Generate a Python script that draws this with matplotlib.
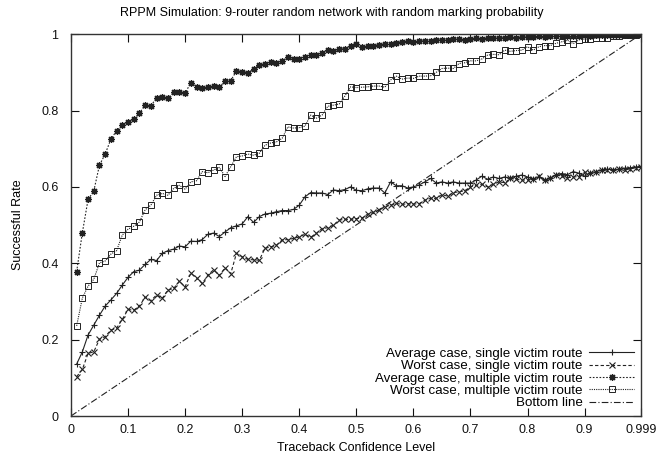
import numpy as np
import matplotlib
matplotlib.use("Agg")
import matplotlib.pyplot as plt

plt.rcParams['font.family'] = ['Liberation Sans', 'DejaVu Sans']

# confidence levels 0.01 .. 0.99 plus 0.999
conf = list(np.round(np.arange(0.01, 1.0, 0.01), 2)) + [0.999]

avg_single = [0.136, 0.168, 0.212, 0.238, 0.264, 0.288, 0.304, 0.321, 0.343, 0.363,
              0.378, 0.382, 0.397, 0.410, 0.407, 0.426, 0.433, 0.437, 0.445, 0.443,
              0.458, 0.457, 0.462, 0.476, 0.479, 0.470, 0.482, 0.493, 0.498, 0.503,
              0.522, 0.507, 0.522, 0.529, 0.531, 0.535, 0.538, 0.538, 0.541, 0.552,
              0.574, 0.585, 0.584, 0.584, 0.580, 0.592, 0.590, 0.593, 0.600, 0.591,
              0.590, 0.595, 0.597, 0.597, 0.584, 0.613, 0.603, 0.603, 0.597, 0.600,
              0.605, 0.613, 0.622, 0.610, 0.613, 0.610, 0.613, 0.610, 0.610, 0.610,
              0.618, 0.628, 0.620, 0.626, 0.622, 0.626, 0.622, 0.628, 0.631, 0.626,
              0.620, 0.626, 0.618, 0.622, 0.632, 0.635, 0.632, 0.640, 0.636, 0.628,
              0.637, 0.640, 0.645, 0.646, 0.645, 0.646, 0.649, 0.650, 0.652, 0.653]

worst_single = [0.103, 0.122, 0.164, 0.168, 0.201, 0.208, 0.225, 0.230, 0.253, 0.279,
                0.277, 0.288, 0.311, 0.302, 0.317, 0.308, 0.330, 0.334, 0.353, 0.338,
                0.374, 0.362, 0.347, 0.369, 0.383, 0.368, 0.388, 0.373, 0.426, 0.417,
                0.410, 0.409, 0.408, 0.439, 0.443, 0.447, 0.461, 0.462, 0.465, 0.469,
                0.476, 0.468, 0.478, 0.491, 0.493, 0.500, 0.513, 0.515, 0.515, 0.517,
                0.518, 0.529, 0.533, 0.539, 0.548, 0.552, 0.557, 0.554, 0.556, 0.555,
                0.556, 0.565, 0.570, 0.570, 0.579, 0.576, 0.585, 0.587, 0.590, 0.600,
                0.604, 0.607, 0.600, 0.607, 0.613, 0.611, 0.622, 0.620, 0.618, 0.618,
                0.620, 0.628, 0.617, 0.624, 0.632, 0.628, 0.624, 0.626, 0.627, 0.638,
                0.636, 0.638, 0.643, 0.645, 0.644, 0.646, 0.643, 0.648, 0.650, 0.653]

avg_multi = [0.378, 0.480, 0.567, 0.589, 0.657, 0.686, 0.725, 0.747, 0.762, 0.770,
             0.777, 0.793, 0.814, 0.812, 0.833, 0.836, 0.832, 0.848, 0.849, 0.845,
             0.873, 0.862, 0.860, 0.862, 0.864, 0.862, 0.876, 0.878, 0.904, 0.902,
             0.899, 0.908, 0.919, 0.922, 0.927, 0.925, 0.930, 0.939, 0.936, 0.935,
             0.940, 0.945, 0.946, 0.950, 0.958, 0.956, 0.960, 0.962, 0.970, 0.974,
             0.965, 0.968, 0.970, 0.972, 0.975, 0.974, 0.978, 0.980, 0.982, 0.980,
             0.981, 0.983, 0.982, 0.984, 0.985, 0.984, 0.986, 0.987, 0.985, 0.988,
             0.989, 0.988, 0.990, 0.989, 0.991, 0.990, 0.992, 0.991, 0.993, 0.992,
             0.993, 0.994, 0.993, 0.995, 0.994, 0.995, 0.996, 0.995, 0.996, 0.997,
             0.996, 0.997, 0.997, 0.998, 0.997, 0.998, 0.999, 0.998, 0.999, 1.000]

worst_multi = [0.236, 0.309, 0.340, 0.358, 0.401, 0.406, 0.424, 0.433, 0.474, 0.489,
               0.497, 0.508, 0.540, 0.552, 0.578, 0.583, 0.578, 0.596, 0.604, 0.594,
               0.613, 0.616, 0.640, 0.637, 0.644, 0.651, 0.627, 0.653, 0.679, 0.681,
               0.686, 0.683, 0.688, 0.709, 0.715, 0.718, 0.727, 0.757, 0.754, 0.755,
               0.759, 0.788, 0.780, 0.788, 0.811, 0.814, 0.817, 0.838, 0.862, 0.860,
               0.861, 0.862, 0.864, 0.864, 0.861, 0.880, 0.890, 0.882, 0.885, 0.884,
               0.890, 0.890, 0.891, 0.900, 0.910, 0.911, 0.910, 0.923, 0.925, 0.930,
               0.930, 0.935, 0.945, 0.947, 0.946, 0.958, 0.955, 0.957, 0.958, 0.967,
               0.958, 0.967, 0.970, 0.970, 0.976, 0.980, 0.984, 0.975, 0.985, 0.987,
               0.987, 0.990, 0.991, 0.991, 0.994, 0.995, 0.997, 0.998, 0.998, 1.000]

bottom_x = [0, 0.999]
bottom_y = [0, 1]

xticks = [0, 0.1, 0.2, 0.3, 0.4, 0.5, 0.6, 0.7, 0.8, 0.9, 0.999]
xticklabels = ['0', '0.1', '0.2', '0.3', '0.4', '0.5', '0.6', '0.7', '0.8', '0.9', '0.999']
yticks = [0, 0.2, 0.4, 0.6, 0.8, 1]
yticklabels = ['0', '0.2', '0.4', '0.6', '0.8', '1']

fig = plt.figure(figsize=(6.63, 4.55), dpi=100)
ax = fig.add_axes([0.107, 0.0857, 0.860, 0.8393])

c = '#222222'
ax.plot(conf, avg_single, color=c, lw=0.8, ls='-', marker='+', ms=5, mew=0.8,
        label='Average case, single victim route')
ax.plot(conf, worst_single, color=c, lw=0.8, ls=(0, (3, 2)), marker='x', ms=5, mew=0.8,
        label='Worst case, single victim route')
ax.plot(conf, avg_multi, color=c, lw=0.8, ls=(0, (1.5, 1.5)), marker=(8, 2, 0), ms=5, mew=0.9,
        label='Average case, multiple victim route')
ax.plot(conf, worst_multi, color=c, lw=0.8, ls=(0, (1, 1)), marker='s', ms=5, mew=0.7,
        mfc='none', label='Worst case, multiple victim route')
ax.plot(bottom_x, bottom_y, color=c, lw=0.8, ls=(0, (6, 2, 1, 2)), label='Bottom line')

ax.set_xlim(0, 0.999)
ax.set_ylim(0, 1)
ax.set_xticks(xticks)
ax.set_xticklabels(xticklabels)
ax.set_yticks(yticks)
ax.set_yticklabels(yticklabels)
ax.tick_params(direction='in', top=True, right=True, length=6, width=0.8,
               labelsize=9, colors='#111111')
ax.tick_params(axis='y', pad=9)
ax.tick_params(axis='x', pad=6)
for s in ax.spines.values():
    s.set_linewidth(1.0)
    s.set_color('#333333')

fig.text(0.5, 0.972, 'RPPM Simulation: 9-router random network with random marking probability',
         fontsize=9, ha='center', va='center')
ax.set_xlabel('Traceback Confidence Level', fontsize=9, labelpad=4)
ax.set_ylabel('Successful Rate', fontsize=9, labelpad=12)

ax.legend(loc='lower right', frameon=False, markerfirst=False, fontsize=9.6, numpoints=1,
          handlelength=3.4, labelspacing=0.0, borderaxespad=0.1, handletextpad=0.5)

fig.savefig('out.png', dpi=100)
